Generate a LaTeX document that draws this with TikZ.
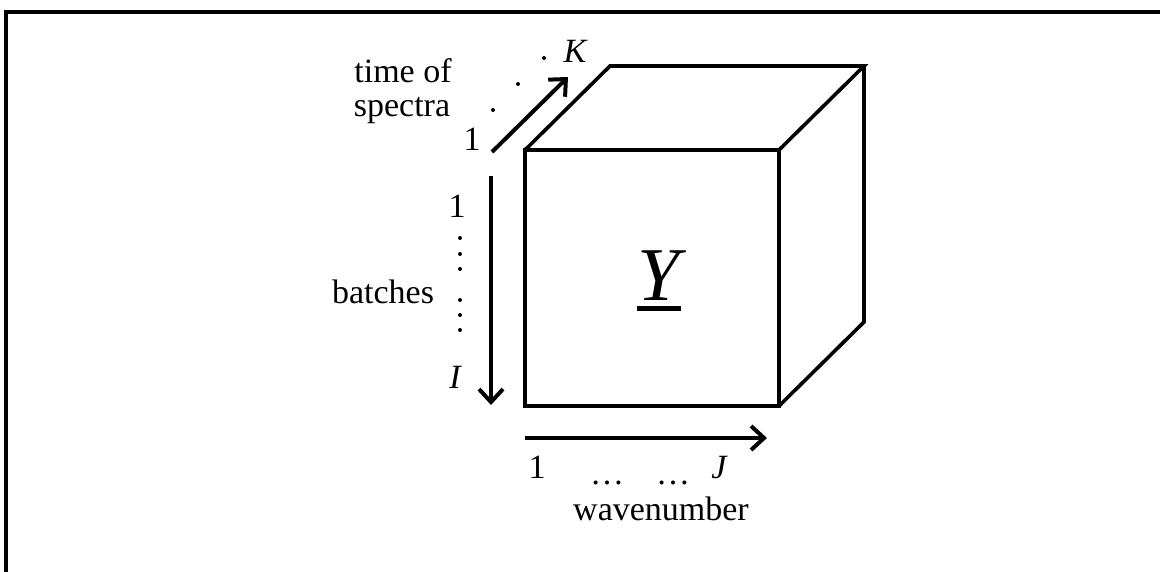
\documentclass[tikz,border=0pt]{standalone}
\usepackage{fontspec}
\setmainfont{Liberation Serif}
\usetikzlibrary{arrows.meta}
\tikzset{
  lbl/.style={inner sep=0pt, font=\fontsize{34}{38}\selectfont},
  edge/.style={line width=3.6pt, line join=miter},
  axis/.style={line width=4pt, -{Straight Barb[length=13pt,width=24pt]}},
  dot/.style={circle, fill=black, inner sep=0pt, minimum size=4pt},
}
\begin{document}
\begin{tikzpicture}[x=1pt,y=-1pt]
\useasboundingbox (0,0) rectangle (1160,571);
% frame (only top and left edges visible)
\coordinate (f0) at (6,12);
\coordinate (f1) at (1162,12);
\coordinate (f2) at (6,573);
\draw[line width=4pt] (f1) -- (f0) -- (f2);
% cube
\coordinate (A) at (525,150);
\coordinate (B) at (779,150);
\coordinate (C) at (779,406);
\coordinate (D) at (525,406);
\coordinate (A2) at (610,66);
\coordinate (B2) at (864,66);
\coordinate (C2) at (864,322);
\draw[edge] (A) -- (B) -- (C) -- (D) -- cycle;
\draw[edge] (A) -- (A2) -- (B2) -- (B);
\draw[edge] (B2) -- (C2) -- (C);
% Y
\node[lbl, font=\fontsize{76}{80}\selectfont\itshape, anchor=base west] (Y) at (637,300) {Y};
\draw[line width=5pt] (Y.base west) ++(0,8) coordinate (u0) -- ++(44,0) coordinate (u1);
% time of spectra axis
\coordinate (k0) at (492,152);
\coordinate (k1) at (568,77);
\draw[axis] (k0) -- (k1);
\node[lbl, anchor=base] (k1lab) at (472,150) {1};
\node[lbl, anchor=base, font=\fontsize{34}{38}\selectfont\itshape] (Klab) at (575,62) {K};
\node[dot] (kd1) at (493,110) {};
\node[dot] (kd2) at (518,84) {};
\node[dot] (kd3) at (544,58) {};
\node[lbl, anchor=base] (time) at (403,82) {time of};
\node[lbl, anchor=base] (spec) at (402,116) {spectra};
% batches axis
\coordinate (i0) at (491,176);
\coordinate (i1) at (491,405);
\draw[axis] (i0) -- (i1);
\node[lbl, anchor=base] (i1lab) at (457,217) {1};
\node[lbl, anchor=base, font=\fontsize{34}{38}\selectfont\itshape] (Ilab) at (455,388) {I};
\foreach \y [count=\n] in {238,254,269,300,315,330}
  \node[dot] (id\n) at (460,\y) {};
\node[lbl, anchor=base] (batches) at (383,303) {batches};
% wavenumber axis
\coordinate (j0) at (525,438);
\coordinate (j1) at (767,438);
\draw[axis] (j0) -- (j1);
\node[lbl, anchor=base] (j1lab) at (537,478) {1};
\node[lbl, anchor=base, font=\fontsize{34}{38}\selectfont\itshape] (Jlab) at (719,478) {J};
\node[lbl, anchor=base] (jd1) at (607,484) {\dots};
\node[lbl, anchor=base] (jd2) at (673,484) {\dots};
\node[lbl, anchor=base] (wave) at (661,520) {wavenumber};
\end{tikzpicture}
\end{document}
